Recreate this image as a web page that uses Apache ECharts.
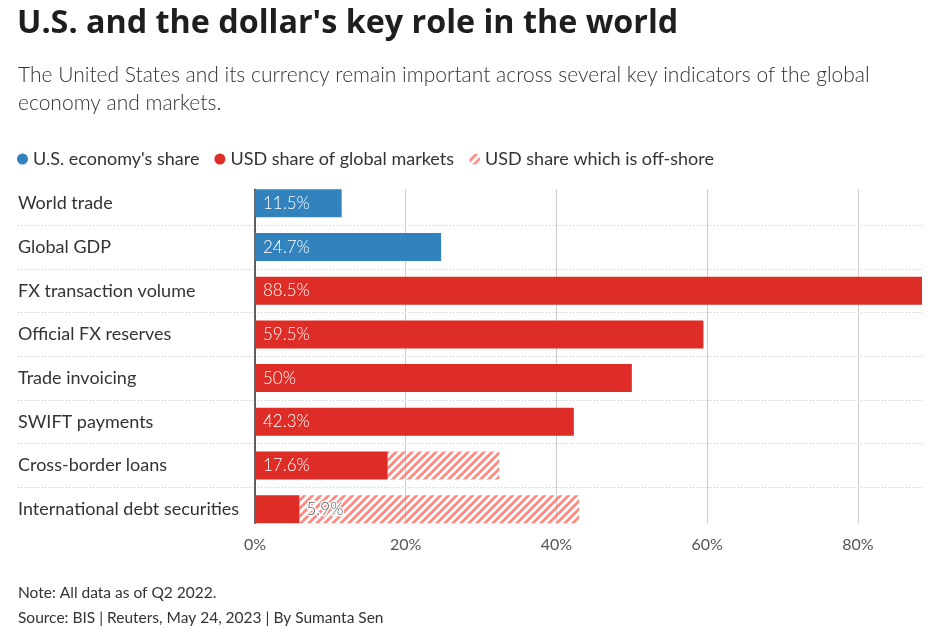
<!DOCTYPE html>
<html><head><meta charset="utf-8">
<script src="https://cdn.jsdelivr.net/npm/echarts@6/dist/echarts.min.js"></script>
<style>html,body{margin:0;padding:0;background:#fff}#c{width:940px;height:634px}</style>
</head><body><div id="c"></div>
<script>
const categories = ['World trade','Global GDP','FX transaction volume','Official FX reserves','Trade invoicing','SWIFT payments','Cross-border loans','International debt securities'];
const usEconomyShare = [11.5, 24.7, null, null, null, null, null, null];
const usdGlobalShare = [null, null, 88.5, 59.5, 50, 42.3, 17.6, 5.9];
const usdOffshoreExtra = [null, null, null, null, null, null, 14.8, 37.1];
const xTickStep = 20;
const xMax = 88.5;
const seriesNames = ["U.S. economy's share", 'USD share of global markets', 'USD share which is off-shore'];

const FONT = 'Lato, "Source Sans Pro", sans-serif';
const TITLE_FONT = '"Open Sans", Lato, sans-serif';
const BLUE = '#3182bd', RED = '#de2d26', HATCH = '#fb8b82';

function hatchPattern(){
  const c = document.createElement('canvas'); c.width = 8; c.height = 8;
  const g = c.getContext('2d');
  g.strokeStyle = HATCH; g.lineWidth = 2.8;
  g.beginPath();
  g.moveTo(-1,9); g.lineTo(9,-1);
  g.moveTo(-5,5); g.lineTo(5,-5);
  g.moveTo(3,13); g.lineTo(13,3);
  g.stroke();
  return c;
}
const pattern = {image: hatchPattern(), repeat: 'repeat'};

const insideLabel = {show:true, position:'insideLeft', distance:8, color:'#fff', fontSize:17, fontWeight:300, fontFamily:FONT, formatter:'{c}%'};
const outsideLabel = {show:true, position:'right', distance:7, color:'#555', fontSize:17, fontWeight:300, fontFamily:FONT, formatter:'{c}%', textBorderColor:'#fff', textBorderWidth:3};
function withLabels(arr){
  return arr.map(v => v == null ? '-' : (v < 8 ? {value:v, label:outsideLabel} : v));
}

const chart = echarts.init(document.getElementById('c'), null, {renderer:'canvas'});
chart.setOption({
  animation:false,
  textStyle:{fontFamily:FONT},
  title:[
    {text:"U.S. and the dollar's key role in the world", left:17, top:8, padding:0, textStyle:{fontSize:32.3, fontWeight:'bold', color:'#1e1e1e', fontFamily:TITLE_FONT}},
    {text:'The United States and its currency remain important across several key indicators of the global\neconomy and markets.', left:18, top:61, padding:0, textStyle:{fontSize:21, fontWeight:300, color:'#333', lineHeight:28, fontFamily:FONT}},
    {text:'Note: All data as of Q2 2022.\nSource: BIS | Reuters, May 24, 2023 | By Sumanta Sen', left:18, top:580, padding:0, textStyle:{fontSize:15.5, fontWeight:'normal', color:'#333', lineHeight:25, fontFamily:FONT}}
  ],
  legend:{
    left:17, top:150, padding:0, icon:'circle', itemWidth:11, itemHeight:11, itemGap:15,
    textStyle:{fontSize:18, color:'#333', fontFamily:FONT},
    data:seriesNames
  },
  grid:[
    {left:18, right:18, top:181.5, bottom:103},
    {left:255, right:18, top:181.5, bottom:103},
    {left:255, right:18, top:189.3, bottom:110.7}
  ],
  xAxis:[
    {gridIndex:0, type:'value', min:0, max:1, show:false},
    {gridIndex:1, type:'value', min:0, max:xMax, show:false},
    {gridIndex:2, type:'value', min:0, max:xMax, interval:xTickStep,
      axisLine:{show:false}, axisTick:{show:false},
      axisLabel:{showMaxLabel:false, margin:14, fontSize:16, color:'#555', fontFamily:FONT, formatter:v => v + '%'},
      splitLine:{show:true, showMaxLine:false, lineStyle:{color:'#cccccc', width:1}}}
  ],
  yAxis:[
    {gridIndex:0, type:'category', inverse:true, data:categories,
      axisLine:{show:false}, axisTick:{show:false},
      axisLabel:{inside:true, margin:0, fontSize:18, color:'#333', fontFamily:FONT},
      splitLine:{show:true, showMinLine:false, showMaxLine:false, lineStyle:{type:[1,2], color:'#c4c4c4', width:1}}},
    {gridIndex:1, type:'category', inverse:true, data:categories, show:false},
    {gridIndex:2, type:'value', min:0, max:1, axisLabel:{show:false}, axisTick:{show:false}, splitLine:{show:false},
      axisLine:{show:true, lineStyle:{color:'#333', width:1.5}}}
  ],
  series:[
    {name:seriesNames[0], type:'bar', xAxisIndex:1, yAxisIndex:1, stack:'s', barWidth:28, z:3,
      itemStyle:{color:BLUE}, label:insideLabel, data:withLabels(usEconomyShare)},
    {name:seriesNames[1], type:'bar', xAxisIndex:1, yAxisIndex:1, stack:'s', barWidth:28, z:3,
      itemStyle:{color:RED}, label:insideLabel, data:withLabels(usdGlobalShare)},
    {name:seriesNames[2], type:'bar', xAxisIndex:1, yAxisIndex:1, stack:'s', barWidth:28, z:2,
      itemStyle:{color:pattern}, data:usdOffshoreExtra.map(v => v == null ? '-' : v)}
  ]
});
</script></body></html>
